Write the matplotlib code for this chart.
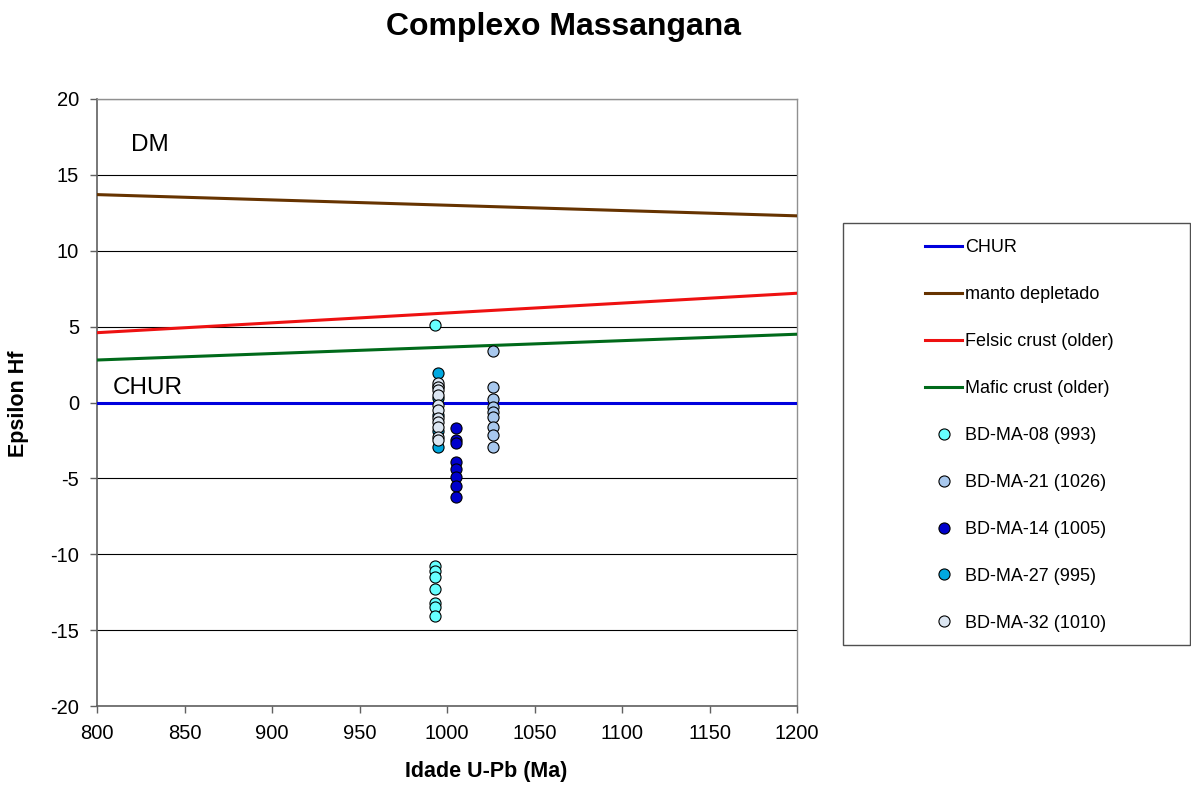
import matplotlib
matplotlib.use("Agg")
import matplotlib.pyplot as plt
from matplotlib.patches import Rectangle
import numpy as np

plt.rcParams["font.family"] = ["Liberation Sans", "DejaVu Sans"]
plt.rcParams["axes.unicode_minus"] = False

# model evolution lines (epsilon Hf at 800 and 1200 Ma)
line_ages = [800, 1200]
chur = [0.0, 0.0]
depleted_mantle = [13.7, 12.3]
felsic_crust = [4.6, 7.2]
mafic_crust = [2.8, 4.5]

# zircon analyses per sample
bd_ma_08_age = 993
bd_ma_08 = [5.1, -10.8, -11.1, -11.5, -12.3, -13.2, -13.5, -14.1]
bd_ma_21_age = 1026
bd_ma_21 = [3.4, 1.05, 0.2, -0.3, -0.6, -0.95, -1.6, -2.15, -2.9]
bd_ma_14_age = 1005
bd_ma_14 = [-1.65, -2.45, -2.7, -3.9, -4.4, -4.9, -5.5, -6.25]
bd_ma_27_age = 995
bd_ma_27 = [1.95, 1.1, 0.3, -0.8, -1.9, -2.9]
bd_ma_32_age = 995
bd_ma_32 = [1.3, 1.05, 0.8, 0.5, -0.15, -0.5, -1.0, -1.3, -1.6, -2.25, -2.45]

W, H = 1191, 785
fig = plt.figure(figsize=(W / 100, H / 100), dpi=100)
ax = fig.add_axes([97 / W, 1 - 706 / H, 700 / W, 607 / H])

lw = 2.2
ax.plot(line_ages, chur, color="#0000dd", lw=lw, label="CHUR", zorder=3)
ax.plot(line_ages, depleted_mantle, color="#663300", lw=lw, label="manto depletado", zorder=3)
ax.plot(line_ages, felsic_crust, color="#ee1111", lw=lw, label="Felsic crust (older)", zorder=3)
ax.plot(line_ages, mafic_crust, color="#006a1a", lw=lw, label="Mafic crust (older)", zorder=3)

samples = [
    ("BD-MA-08 (993)", bd_ma_08_age, bd_ma_08, "#66ffff"),
    ("BD-MA-21 (1026)", bd_ma_21_age, bd_ma_21, "#a8c8ee"),
    ("BD-MA-14 (1005)", bd_ma_14_age, bd_ma_14, "#0000cc"),
    ("BD-MA-27 (995)", bd_ma_27_age, bd_ma_27, "#00a8e0"),
    ("BD-MA-32 (1010)", bd_ma_32_age, bd_ma_32, "#dce6f2"),
]
for name, age, vals, col in samples:
    ax.plot(np.full(len(vals), age), vals, ls="none", marker="o", ms=8,
            mfc=col, mec="black", mew=0.8, label=name, zorder=4)

ax.set_xlim(800, 1200)
ax.set_ylim(-20, 20)
ax.set_xticks(np.arange(800, 1201, 50))
ax.set_yticks(np.arange(-20, 21, 5))
ax.yaxis.grid(True, color="black", lw=0.8)
ax.set_axisbelow(True)
for side in ["left", "bottom"]:
    ax.spines[side].set_color("#606060")
    ax.spines[side].set_linewidth(1.2)
for side in ["right", "top"]:
    ax.spines[side].set_color("#909090")
    ax.spines[side].set_linewidth(1.0)
ax.tick_params(direction="out", length=5, width=1, color="#606060",
               labelsize=14.5, pad=8)

ax.text(830, 17, "DM", fontsize=17.5, ha="center", va="center")
ax.text(829, 0.95, "CHUR", fontsize=17.5, ha="center", va="center")

fig.text(486 / W, 1 - 772 / H, "Idade U-Pb (Ma)", fontsize=15.5,
         fontweight="bold", ha="center", va="center")
fig.text(19 / W, 1 - 404 / H, "Epsilon Hf", fontsize=15.5, fontweight="bold",
         rotation=90, ha="center", va="center")
fig.text(0.473, 1 - 27 / H, "Complexo Massangana", fontsize=23,
         fontweight="bold", ha="center", va="center")

# legend box on the right
fig.patches.append(Rectangle((843 / W, 1 - 645 / H), 347 / W, 422 / H,
                             transform=fig.transFigure, fill=False,
                             edgecolor="#505050", lw=1.0))
handles, labels = ax.get_legend_handles_labels()
fig.legend(handles, labels, loc="upper left",
           bbox_to_anchor=(925 / W, 1 - 239 / H), fontsize=13, frameon=False,
           borderpad=0, borderaxespad=0, labelspacing=1.66,
           handlelength=2.05, handletextpad=0.17)

fig.savefig("out.png", dpi=100)
